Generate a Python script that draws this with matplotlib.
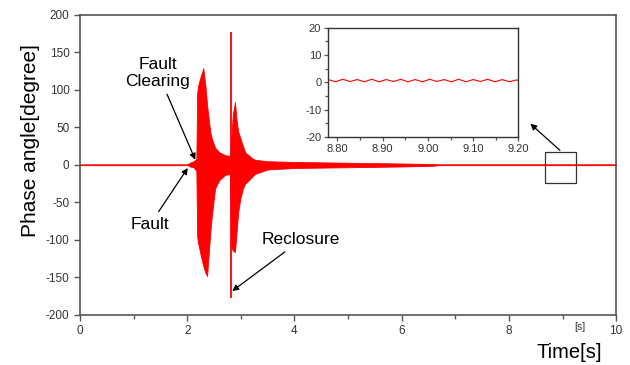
import numpy as np
import matplotlib.pyplot as plt
from matplotlib.patches import Rectangle

plt.rcParams['font.family'] = ['Liberation Sans', 'DejaVu Sans']
plt.rcParams['axes.unicode_minus'] = False

# -------------------- data --------------------
# envelope of the phase angle oscillation (time [s], upper, lower [deg])
env_t = [0.0, 2.00, 2.05, 2.12, 2.17, 2.185, 2.20, 2.25, 2.30, 2.34, 2.37, 2.43,
         2.46, 2.52, 2.60, 2.71, 2.80, 2.825, 2.85, 2.89, 2.92, 2.95, 2.99,
         3.04, 3.08, 3.21, 3.26, 3.50, 4.00, 5.00, 6.00, 6.60, 6.70, 10.0]
env_hi = [0.8, 0.8, 3, 5, 8, 95, 105, 118, 129, 105, 80, 44,
          35, 23, 17, 13, 12, 40, 67, 84, 60, 45, 36,
          25, 17, 9, 7, 5, 4, 3, 2, 1.2, 0.9, 0.9]
env_lo = [0.2, 0.2, -2, -3, -8, -95, -103, -120, -135, -144, -148, -90,
          -67, -31, -20, -13, -12, -110, -114, -116, -90, -63, -45,
          -31, -25, -16, -12, -6, -4, -3, -2, -1.0, 0.1, 0.1]

# reclosure spike
spike_t = 2.82
spike_top = 177
spike_bot = -177

# zoomed detail 8.78 .. 9.20 s
zoom_t = [8.780, 8.796, 8.812, 8.828, 8.844, 8.860, 8.876, 8.892, 8.908, 8.924,
          8.940, 8.956, 8.972, 8.988, 9.004, 9.020, 9.036, 9.052, 9.068, 9.084,
          9.100, 9.116, 9.132, 9.148, 9.164, 9.180, 9.196, 9.200]
zoom_v = [1.0, 0.2, 1.1, 0.3, 1.0, 0.2, 1.1, 0.2, 1.0, 0.3,
          1.1, 0.2, 1.0, 0.2, 1.1, 0.3, 1.0, 0.2, 1.1, 0.2,
          1.0, 0.3, 1.1, 0.2, 1.0, 0.2, 0.9, 0.6]

red = '#ff0000'
spine_c = '#555555'
tick_c = '#333333'

fig = plt.figure(figsize=(6.3, 3.65), dpi=100)
ax = fig.add_axes([0.127, 0.137, 0.851, 0.822])

ax.fill_between(env_t, env_lo, env_hi, color=red, lw=0.6)
ax.plot([0, 10], [0.5, 0.5], color=red, lw=0.8)
ax.vlines(spike_t, spike_bot, spike_top, color=red, lw=1.3)

ax.set_xlim(0, 10)
ax.set_ylim(-200, 200)
ax.set_xticks([0, 2, 4, 6, 8, 10])
ax.set_xticks([1, 3, 5, 7, 9], minor=True)
ax.set_yticks([-200, -150, -100, -50, 0, 50, 100, 150, 200])
ax.tick_params(direction='out', length=4, width=1, colors=spine_c,
               labelcolor=tick_c, labelsize=8.5)
ax.tick_params(which='minor', direction='out', length=3, width=1, colors=spine_c)
for s in ax.spines.values():
    s.set_color(spine_c)
    s.set_linewidth(1.2)

ax.set_ylabel('Phase angle[degree]', fontsize=15)
ax.yaxis.set_label_coords(-0.075, 0.58)
fig.text(0.956, 0.035, 'Time[s]', fontsize=14.5, ha='right', va='center')
fig.text(0.921, 0.105, '[s]', fontsize=7.5, ha='center', va='center', color=tick_c)

# annotations
arr = dict(arrowstyle='-|>', color='black', lw=0.9, mutation_scale=9,
           shrinkA=2, shrinkB=0)
ax.annotate('Fault\nClearing', xy=(2.15, 7), xytext=(1.45, 123),
            ha='center', va='center', fontsize=12.5, linespacing=1.2,
            arrowprops=arr)
ax.annotate('Fault', xy=(2.01, -4), xytext=(1.31, -79),
            ha='center', va='center', fontsize=12.5, arrowprops=arr)
ax.annotate('Reclosure', xy=(2.84, -168), xytext=(4.12, -100),
            ha='center', va='center', fontsize=12.5, arrowprops=arr)

ax.add_patch(Rectangle((8.68, -24), 0.58, 41, fill=False, ec='#333333', lw=0.9))
ax.annotate('', xy=(8.40, 55), xytext=(8.99, 17), arrowprops=arr)

# inset
ins = fig.add_axes([0.521, 0.625, 0.302, 0.299])
ins.plot(zoom_t, zoom_v, color=red, lw=0.8)
ins.set_xlim(8.78, 9.20)
ins.set_ylim(-20, 20)
ins.set_xticks([8.80, 8.90, 9.00, 9.10, 9.20])
ins.set_xticklabels(['8.80', '8.90', '9.00', '9.10', '9.20'])
ins.set_xticks([8.85, 8.95, 9.05, 9.15], minor=True)
ins.set_yticks([-20, -10, 0, 10, 20])
ins.set_yticks([-15, -5, 5, 15], minor=True)
ins.tick_params(direction='out', length=3, width=0.9, colors=spine_c,
                labelcolor=tick_c, labelsize=8, pad=2)
ins.tick_params(which='minor', direction='out', length=2, width=0.9, colors=spine_c)
for s in ins.spines.values():
    s.set_color('#333333')
    s.set_linewidth(1.0)

fig.savefig('out.png', dpi=100)
